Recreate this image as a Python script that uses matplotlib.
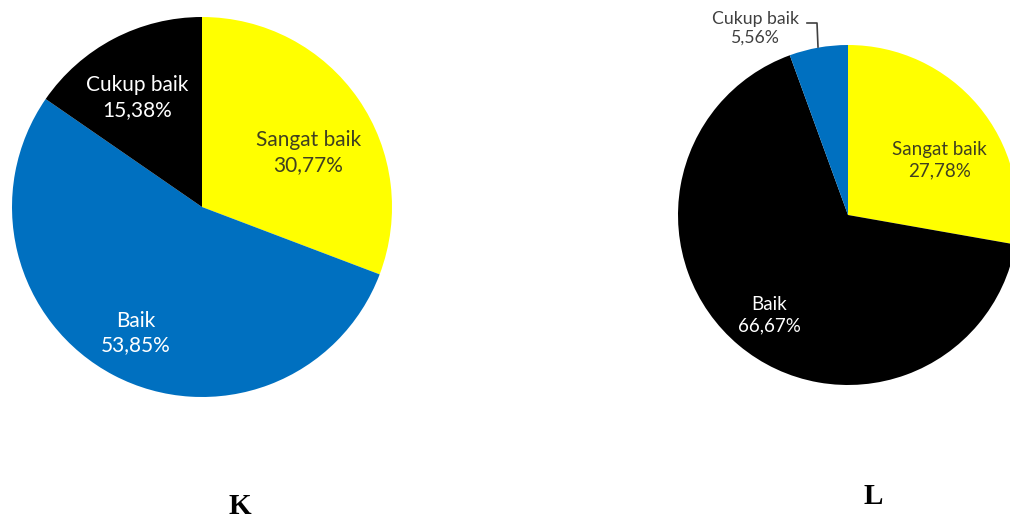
import numpy as np
import matplotlib.pyplot as plt

labels = ["Sangat baik", "Baik", "Cukup baik"]
values_k = [30.77, 53.85, 15.38]
values_l = [27.78, 66.67, 5.56]

colors_k = ["#ffff00", "#0070c0", "#000000"]
colors_l = ["#ffff00", "#000000", "#0070c0"]
text_k = ["#404020", "white", "white"]
text_l = ["#404020", "white", "#404040"]

W, H = 1010, 519
fig = plt.figure(figsize=(W / 100, H / 100), dpi=100)
plt.rcParams['font.family'] = ['Lato', 'DejaVu Sans']


def pie_axes(cx, cy, r):
    # pixel center / radius -> figure fraction axes
    ax = fig.add_axes([(cx - r) / W, (H - cy - r) / H, 2 * r / W, 2 * r / H])
    ax.axis("off")
    return ax


def fmt(v):
    return ("%.2f%%" % v).replace(".", ",")


def draw(ax, values, colors, tcolors, dists, shifts, fs, skip=()):
    wedges, _ = ax.pie(values, colors=colors, startangle=90, counterclock=False,
                       radius=1, wedgeprops=dict(linewidth=0))
    ax.set_xlim(-1, 1)
    ax.set_ylim(-1, 1)
    for i, w in enumerate(wedges):
        if i in skip:
            continue
        ang = np.deg2rad((w.theta1 + w.theta2) / 2 + shifts[i])
        d = dists[i]
        ax.text(d * np.cos(ang), d * np.sin(ang), labels[i] + "\n" + fmt(values[i]),
                ha="center", va="center", fontsize=fs, color=tcolors[i],
                linespacing=1.3)
    return wedges


ax1 = pie_axes(202, 207, 190)
draw(ax1, values_k, colors_k, text_k, [0.63, 0.75, 0.67], [-7.5, 0, 3], 15)

ax2 = pie_axes(848, 215, 170)
draw(ax2, values_l, colors_l, text_l, [0.63, 0.75, 0.7], [-9, 2, 0], 13.5, skip=(2,))

# outside label with leader line for the small slice
fig.text(755 / W, 1 - 28 / H, labels[2] + "\n" + fmt(values_l[2]), ha="center", va="center",
         fontsize=12.7, color="#404040", linespacing=1.2)
fig.add_artist(plt.Line2D([807 / W, 817 / W, 818 / W], [1 - 23 / H, 1 - 23 / H, 1 - 47 / H],
                          color="#404040", linewidth=1.2))

fig.text(240 / W, 1 - 507 / H, "K", ha="center", va="center", fontsize=21,
         fontweight="bold", family="Liberation Serif")
fig.text(873 / W, 1 - 496 / H, "L", ha="center", va="center", fontsize=21,
         fontweight="bold", family="Liberation Serif")

fig.savefig("out.png", dpi=100)
